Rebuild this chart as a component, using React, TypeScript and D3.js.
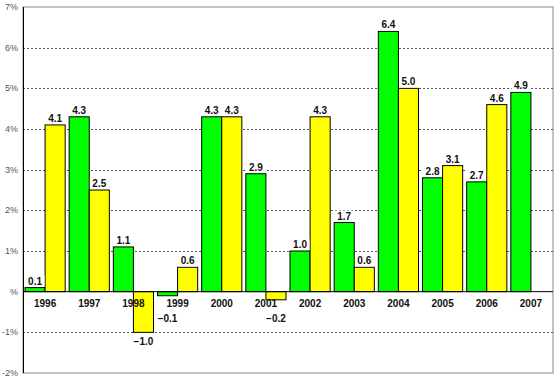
import React from "react";
import * as d3 from "d3";

const years = ["1996","1997","1998","1999","2000","2001","2002","2003","2004","2005","2006","2007"];
const greenValues: (number | null)[] = [0.1, 4.3, 1.1, -0.1, 4.3, 2.9, 1.0, 1.7, 6.4, 2.8, 2.7, 4.9];
const yellowValues: (number | null)[] = [4.1, 2.5, -1.0, 0.6, 4.3, -0.2, 4.3, 0.6, 5.0, 3.1, 4.6, null];
const yTicks = [-2, -1, 0, 1, 2, 3, 4, 5, 6, 7];
const yTickLabels = ["-2%", "-1%", "%", "1%", "2%", "3%", "4%", "5%", "6%", "7%"];

const W = 560, H = 383;
const left = 23, right = 553, top = 7, bottom = 373;

export default function App() {
  const x = d3.scaleBand<string>().domain(years).range([left, right]).paddingInner(0).paddingOuter(0);
  const y = d3.scaleLinear().domain([-2, 7]).range([bottom, top]);
  const bw = x.bandwidth();
  const inner = d3.scaleBand<string>().domain(["g", "y"]).range([2, bw - 2]);
  const fmt = d3.format(".1f");
  const y0 = y(0);

  const series = [
    { key: "g", values: greenValues, color: "#00ff00" },
    { key: "y", values: yellowValues, color: "#ffff00" },
  ];

  const bars: any[] = [];
  const labels: any[] = [];
  series.forEach((s) => {
    s.values.forEach((v, i) => {
      if (v === null) return;
      const bx = (x(years[i]) as number) + (inner(s.key) as number);
      const w = inner.bandwidth();
      const yt = y(Math.max(0, v));
      const yb = y(Math.min(0, v));
      bars.push(
        <rect key={s.key + i} x={bx} y={yt} width={w} height={Math.max(1, yb - yt)}
          fill={s.color} stroke="#000" strokeWidth={1} />
      );
      const text = fmt(v);
      const cx = bx + w / 2;
      const ly = v >= 0 ? yt - 3 : Math.max(yb + 13, y0 + 30);
      const tw = text.length * 5.6 + 2;
      labels.push(
        <g key={"l" + s.key + i}>
          <rect x={cx - tw / 2} y={ly - 9} width={tw} height={11} fill="#fff" />
          <text x={cx} y={ly} textAnchor="middle" fontSize={10} fontWeight="bold"
            fontFamily="Liberation Sans, Arial, sans-serif" fill="#111">{text}</text>
        </g>
      );
    });
  });

  return (
    <svg width={W} height={H} style={{ position: "absolute", left: 0, top: 0, background: "#fff" }}>
      <rect x={left} y={top} width={right - left} height={bottom - top} fill="#fff" stroke="#b0b0b0" strokeWidth={1.5} />
      {yTicks.filter((t) => t !== 0 && t !== 7 && t !== -2).map((t) => (
        <line key={"g" + t} x1={left} x2={right} y1={Math.round(y(t)) + 0.5} y2={Math.round(y(t)) + 0.5}
          stroke="#555" strokeDasharray="2,2" strokeWidth={1} />
      ))}
      {yTicks.map((t, i) => (
        <text key={"t" + t} x={18} y={y(t) + 3} textAnchor="end" fontSize={9}
          fontFamily="Liberation Sans, Arial, sans-serif" fill="#555">{yTickLabels[i]}</text>
      ))}
      {bars}
      <line x1={left} x2={right} y1={y0} y2={y0} stroke="#000" strokeWidth={1} />
      <line x1={left + 0.5} x2={left + 0.5} y1={top} y2={bottom} stroke="#000" strokeWidth={1} />
      {years.map((yr) => (
        <text key={"x" + yr} x={(x(yr) as number) + bw / 2} y={y0 + 15} textAnchor="middle" fontSize={10}
          fontWeight="bold" fontFamily="Liberation Sans, Arial, sans-serif" fill="#111">{yr}</text>
      ))}
      {labels}
    </svg>
  );
}
